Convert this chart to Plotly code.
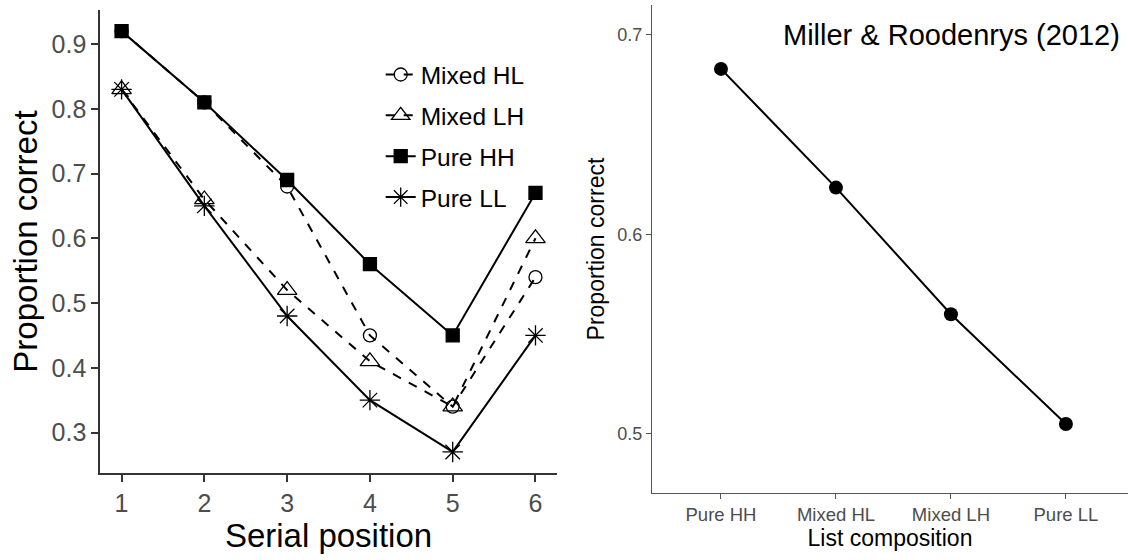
import plotly.graph_objects as go

serial_positions = [1, 2, 3, 4, 5, 6]
mixed_hl = [0.92, 0.81, 0.68, 0.45, 0.34, 0.54]
mixed_lh = [0.83, 0.66, 0.52, 0.41, 0.34, 0.60]
pure_hh = [0.92, 0.81, 0.69, 0.56, 0.45, 0.67]
pure_ll = [0.83, 0.65, 0.48, 0.35, 0.27, 0.45]

compositions = ["Pure HH", "Mixed HL", "Mixed LH", "Pure LL"]
composition_means = [0.683, 0.6235, 0.560, 0.505]

FONT = "Liberation Sans, Arial, sans-serif"
GREY = "#4d4d4d"

fig = go.Figure()

series = [
    ("Mixed HL", mixed_hl, "circle-open", "dash", 13),
    ("Mixed LH", mixed_lh, "triangle-up-open", "dash", 17),
    ("Pure HH", pure_hh, "square", "solid", 13),
    ("Pure LL", pure_ll, "asterisk-open", "solid", 17),
]
for i, (name, vals, sym, dash, sz) in enumerate(series):
    fig.add_trace(go.Scatter(
        x=serial_positions, y=vals, name=name, mode="lines+markers",
        legendgroup=f"g{i}",
        line=dict(color="black", width=2, dash=dash),
        marker=dict(symbol=sym, size=sz, color="black",
                    line=dict(color="black", width=1.3)),
        xaxis="x", yaxis="y", showlegend=True,
    ))

fig.add_trace(go.Scatter(
    x=compositions, y=composition_means, mode="lines+markers",
    line=dict(color="black", width=2),
    marker=dict(symbol="circle", size=14, color="black"),
    xaxis="x2", yaxis="y2", showlegend=False,
))

axis_common = dict(showgrid=False, zeroline=False, showline=True,
                   ticks="outside", mirror=False)

fig.update_layout(
    width=1128, height=560,
    margin=dict(l=0, r=0, t=0, b=0),
    paper_bgcolor="white", plot_bgcolor="white",
    font=dict(family=FONT, color="black"),
    xaxis=dict(**axis_common, domain=[0.0887, 0.4938], range=[0.74, 6.26],
               tickvals=serial_positions, linecolor="#333333", linewidth=1.5,
               tickcolor="#333333", tickwidth=1.5, ticklen=7,
               tickfont=dict(size=25, color=GREY),
               title=dict(text="Serial position", font=dict(size=33, color="black"),
                          standoff=7),
               anchor="y"),
    yaxis=dict(**axis_common, domain=[0.1554, 0.982], range=[0.2375, 0.9525],
               tickvals=[0.3, 0.4, 0.5, 0.6, 0.7, 0.8, 0.9],
               ticktext=["0.3", "0.4", "0.5", "0.6", "0.7", "0.8", "0.9"],
               linecolor="#333333", linewidth=1.5,
               tickcolor="#333333", tickwidth=1.5, ticklen=7,
               tickfont=dict(size=25, color=GREY),
               title=dict(text="Proportion correct", font=dict(size=33, color="black"),
                          standoff=4),
               anchor="x"),
    xaxis2=dict(**axis_common, domain=[0.578, 1.0], range=[-0.6, 3.54],
                type="category", linecolor="#555555", linewidth=1.2,
                tickcolor="#555555", tickwidth=1.2, ticklen=5,
                tickfont=dict(size=18.5, color=GREY),
                title=dict(text="List composition", font=dict(size=23, color="black"),
                           standoff=3),
                anchor="y2"),
    yaxis2=dict(**axis_common, domain=[0.1196, 0.991], range=[0.4704, 0.715],
                tickvals=[0.5, 0.6, 0.7], ticktext=["0.5", "0.6", "0.7"],
                linecolor="#555555", linewidth=1.2,
                tickcolor="#555555", tickwidth=1.2, ticklen=5,
                tickfont=dict(size=18, color=GREY),
                title=dict(text="Proportion correct", font=dict(size=23, color="black"),
                           standoff=6),
                anchor="x2"),
    legend=dict(x=0.3375, y=0.907, xanchor="left", yanchor="top",
                bgcolor="rgba(0,0,0,0)", font=dict(size=24.5, color="black"),
                tracegroupgap=6, itemwidth=30, traceorder="grouped"),
    annotations=[dict(text="Miller &amp; Roodenrys (2012)", x=0.995, y=1 - 35 / 560,
                      xref="paper", yref="paper", xanchor="right", yanchor="middle",
                      showarrow=False, font=dict(size=29, color="black"))],
)

fig.write_html("out.html", config={"displayModeBar": False},
               post_script="document.body.style.margin='0';document.body.style.padding='0';")
